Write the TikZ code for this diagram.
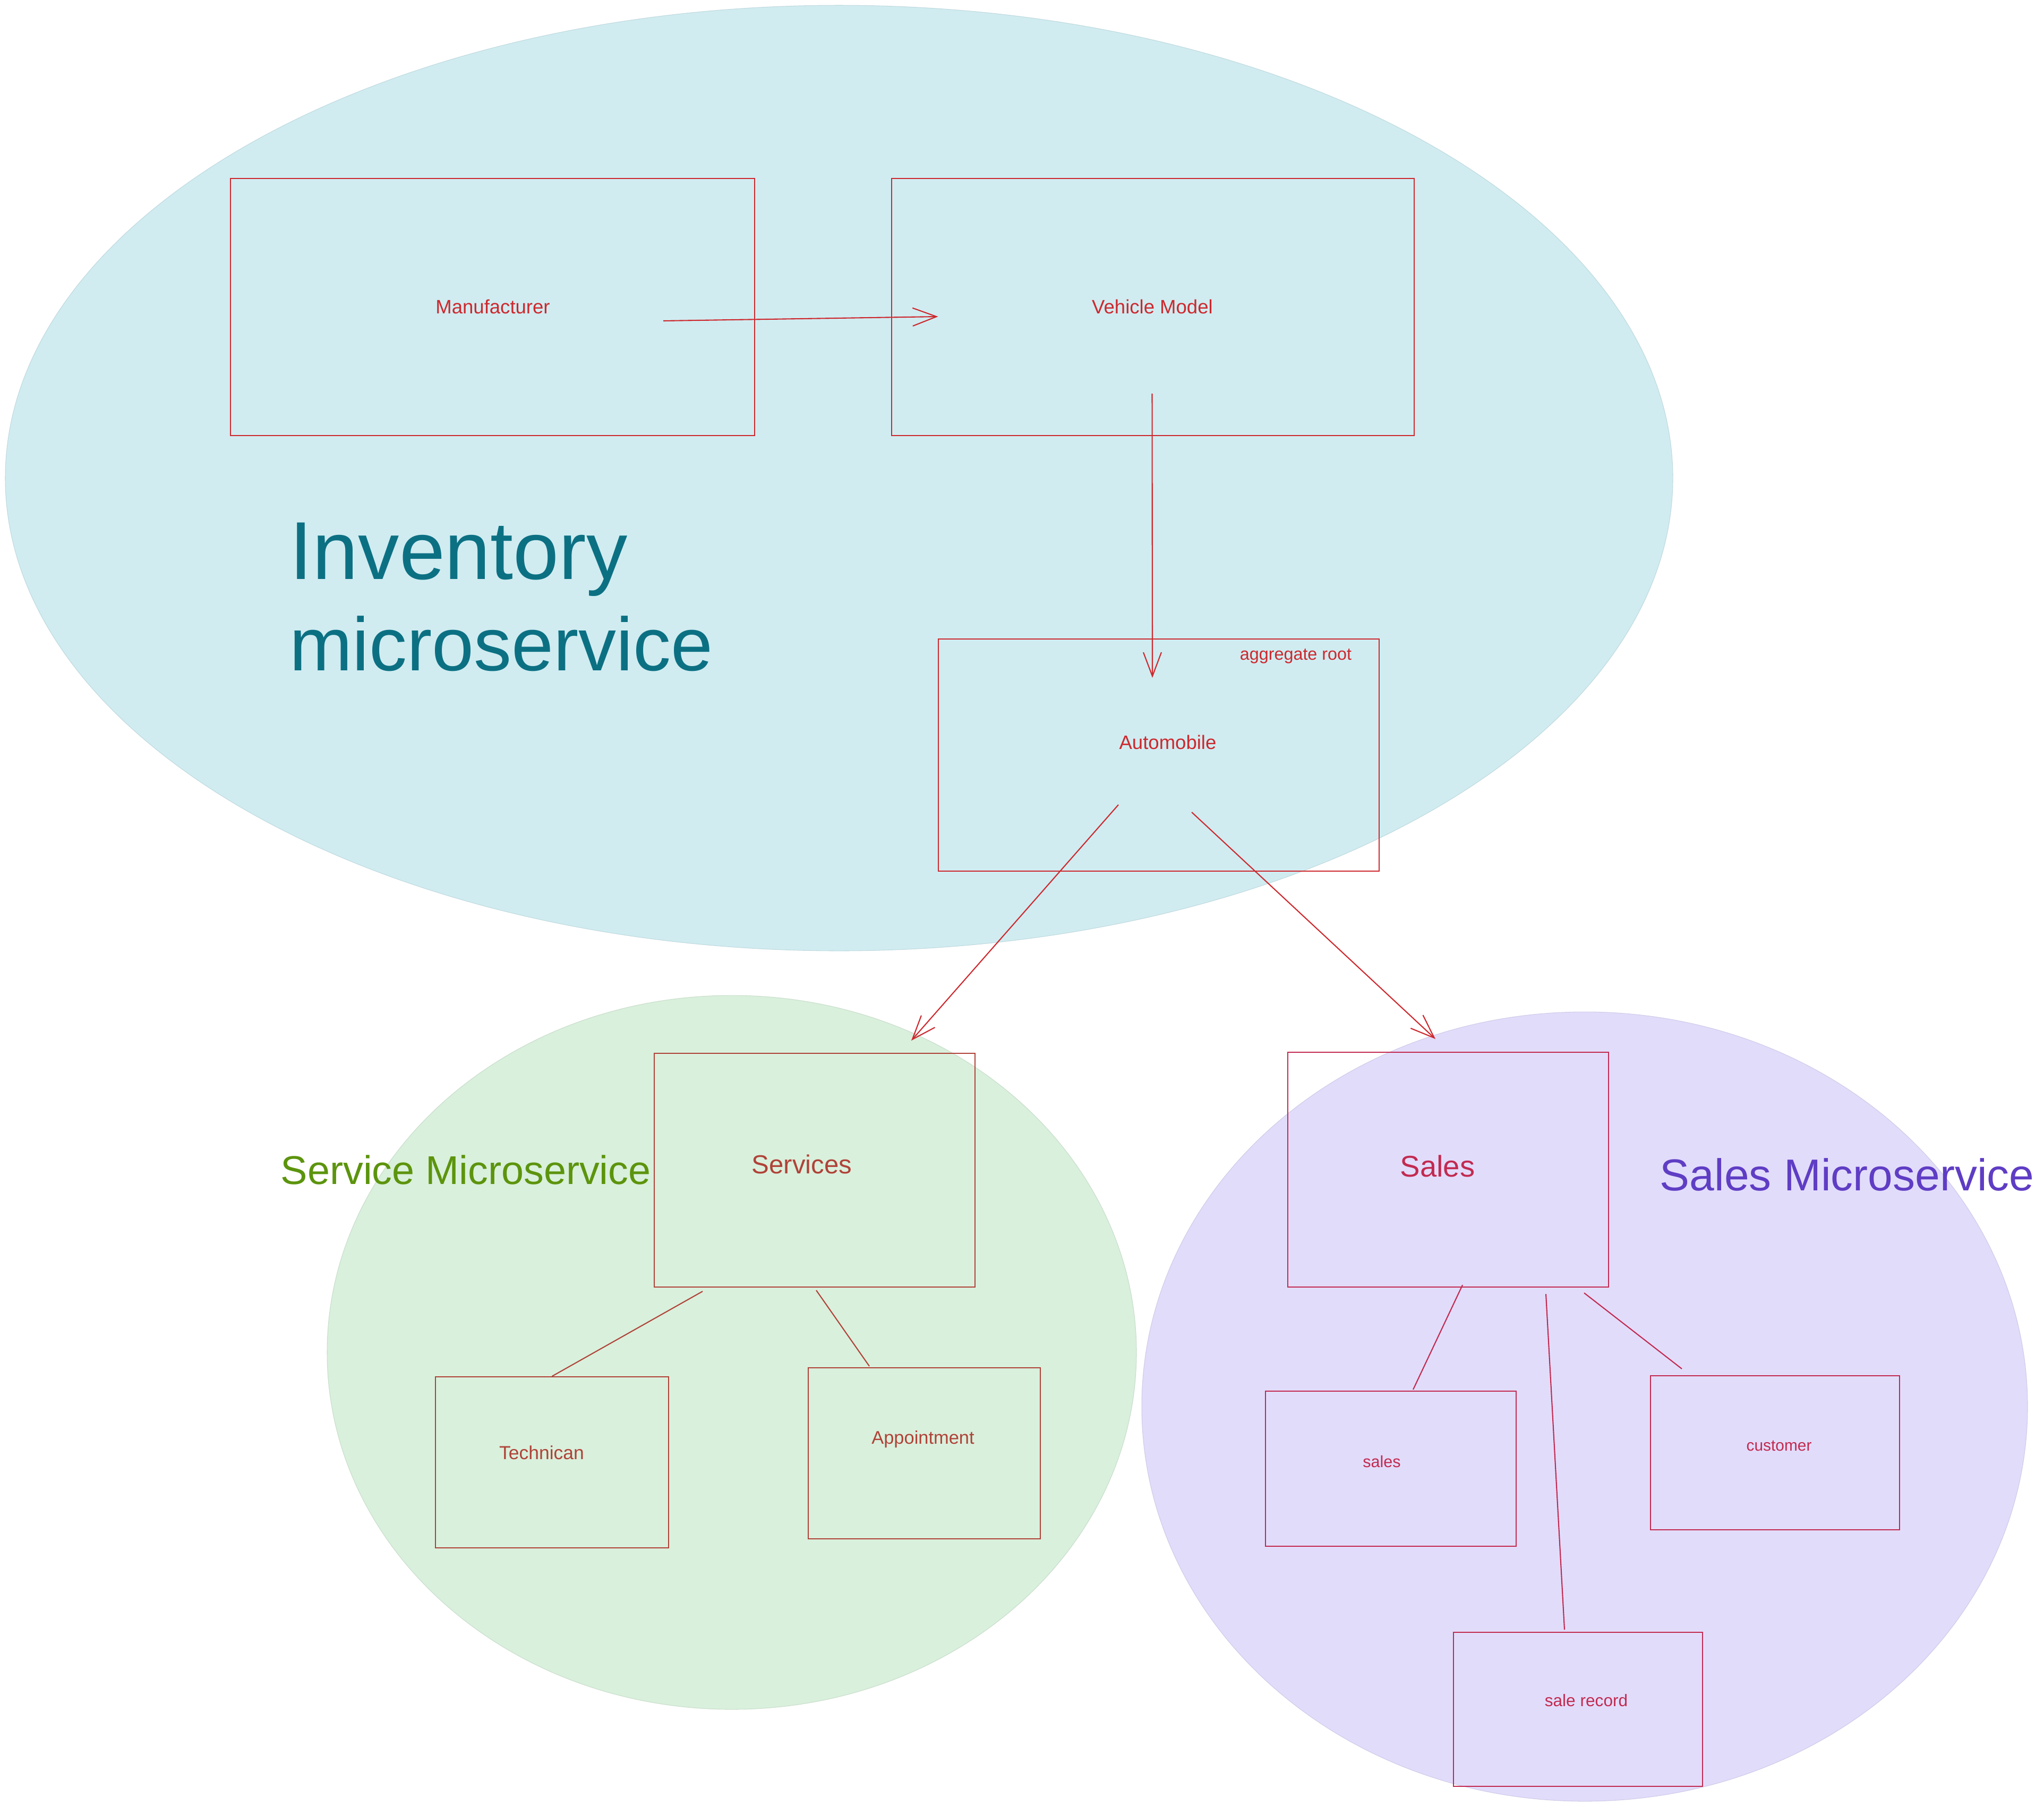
\documentclass[tikz,border=0pt]{standalone}
\usepackage{fontspec}
\setmainfont{Liberation Sans}
\usetikzlibrary{arrows.meta}

\definecolor{invfill}{RGB}{208,236,241}
\definecolor{svcfill}{RGB}{217,240,220}
\definecolor{salfill}{RGB}{226,220,251}
\definecolor{invtitle}{RGB}{12,112,131}
\definecolor{svctitle}{RGB}{92,148,13}
\definecolor{saltitle}{RGB}{95,61,196}
\definecolor{invred}{RGB}{205,40,45}
\definecolor{svcred}{RGB}{176,66,56}
\definecolor{salred}{RGB}{194,42,80}

\tikzset{
  box/.style={draw, rectangle, inner sep=0pt, line width=0.6pt},
  arr/.style={-{Straight Barb[length=4.5mm,width=3.4mm]}, line width=0.6pt},
  link/.style={line width=0.6pt},
  lbl/.style={inner sep=0pt, font=\fontsize{#1}{#1}\selectfont},
  title/.style={inner sep=0pt, anchor=base west, font=\fontsize{#1}{#1}\selectfont}
}

\begin{document}
\begin{tikzpicture}
\useasboundingbox (0,0) rectangle (38.49,-33.99);

% Zonas
\filldraw[fill=invfill, draw=invfill!92!black, line width=0.3pt] (15.80,-9.00) ellipse (15.70 and 8.90);
\filldraw[fill=svcfill, draw=svcfill!92!black, line width=0.3pt] (13.78,-25.46) ellipse (7.62 and 6.72);
\filldraw[fill=salfill, draw=salfill!92!black, line width=0.3pt] (29.84,-26.48) ellipse (8.34 and 7.43);

% Inventory
\node[box, draw=invred, minimum width=9.87cm, minimum height=4.84cm] (manu) at (9.275,-5.78) {};
\node[box, draw=invred, minimum width=9.84cm, minimum height=4.84cm] (veh) at (21.71,-5.78) {};
\node[box, draw=invred, minimum width=8.30cm, minimum height=4.37cm] (auto) at (21.82,-14.215) {};

\node[lbl=10.4, text=invred] (manuT) at (9.28,-5.77) {Manufacturer};
\node[lbl=10.4, text=invred] (vehT) at (21.70,-5.77) {Vehicle Model};
\node[lbl=10.4, text=invred] (autoT) at (21.99,-13.97) {Automobile};
\node[lbl=9.2, text=invred] (aggT) at (24.40,-12.35) {aggregate root};

\node[title=44, text=invtitle] (invT1) at (5.45,-10.90) {Inventory};
\node[title=40.4, text=invtitle] (invT2) at (5.45,-12.62) {microservice};

\draw[arr, invred] ([shift={(3.215,-0.26)}]manu.center) -- ([shift={(-4.045,-0.18)}]veh.center);
\draw[arr, invred] ([shift={(-0.015,-1.63)}]veh.center) -- ([shift={(-0.12,1.455)}]auto.center);

% Service
\node[box, draw=svcred, minimum width=6.04cm, minimum height=4.40cm] (svc) at (15.34,-22.03) {};
\node[box, draw=svcred, minimum width=4.39cm, minimum height=3.22cm] (tech) at (10.395,-27.53) {};
\node[box, draw=svcred, minimum width=4.37cm, minimum height=3.22cm] (appt) at (17.405,-27.36) {};

\node[lbl=14, text=svcred] (svcT) at (15.10,-21.92) {Services};
\node[lbl=10.1, text=svcred] (techT) at (10.20,-27.35) {Technican};
\node[lbl=9.8, text=svcred] (apptT) at (17.38,-27.10) {Appointment};

\node[title=21.5, text=svctitle] (svcTitle) at (5.28,-22.29) {Service Microservice};

\draw[link, svcred] ([shift={(-2.11,-0.07)}]svc.south) -- (tech.north);
\draw[link, svcred] ([shift={(0.03,-0.05)}]svc.south) -- ([shift={(-1.035,0.02)}]appt.north);

% Sales
\node[box, draw=salred, minimum width=6.04cm, minimum height=4.42cm] (sal) at (27.27,-22.02) {};
\node[box, draw=salred, minimum width=4.72cm, minimum height=2.92cm] (salesb) at (26.19,-27.65) {};
\node[box, draw=salred, minimum width=4.69cm, minimum height=2.90cm] (cust) at (33.425,-27.35) {};
\node[box, draw=salred, minimum width=4.69cm, minimum height=2.90cm] (rec) at (29.715,-32.18) {};

\node[lbl=16, text=salred] (salT) at (27.07,-21.95) {Sales};
\node[lbl=8.7, text=salred] (salesbT) at (26.02,-27.52) {sales};
\node[lbl=8.5, text=salred] (custT) at (33.50,-27.22) {customer};
\node[lbl=9, text=salred] (recT) at (29.87,-32.01) {sale record};

\node[title=23.9, text=saltitle] (salTitle) at (31.25,-22.41) {Sales Microservice};

\draw[link, salred] ([shift={(0.27,0.05)}]sal.south) -- ([shift={(0.42,0.02)}]salesb.north);
\draw[link, salred] ([shift={(1.84,-0.12)}]sal.south) -- ([shift={(-0.255,0.04)}]rec.north);
\draw[link, salred] ([shift={(2.56,-0.10)}]sal.south) -- ([shift={(-1.755,0.12)}]cust.north);

% Automobile hacia los servicios
\draw[arr, invred] ([shift={(-0.76,-0.935)}]auto.center) -- ([shift={(1.82,2.44)}]svc.center);
\draw[arr, invred] ([shift={(0.62,-1.075)}]auto.center) -- ([shift={(-0.24,2.46)}]sal.center);
\end{tikzpicture}
\end{document}
